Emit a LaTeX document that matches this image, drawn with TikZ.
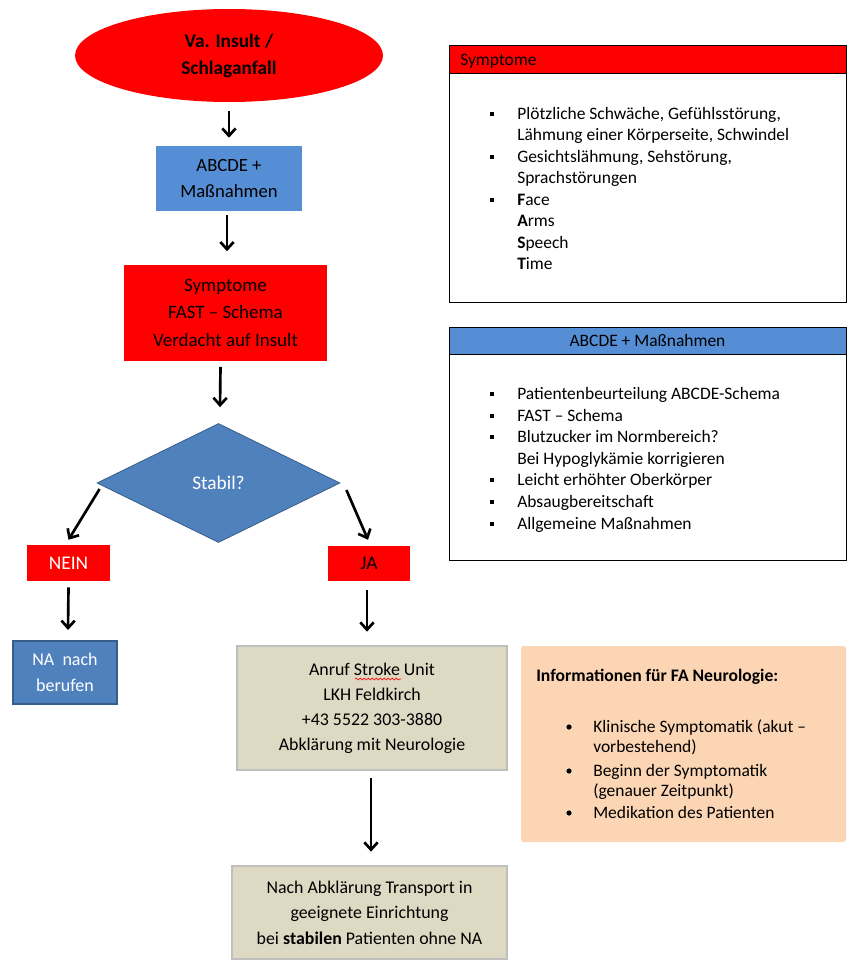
\documentclass[tikz,border=0pt]{standalone}
\usepackage{fontspec}
\setmainfont{Carlito}
\usetikzlibrary{shapes.geometric,arrows.meta,calc,decorations.pathmorphing}
\definecolor{myred}{HTML}{FF0000}
\definecolor{boxblue}{HTML}{558ED5}
\definecolor{diablue}{HTML}{4F81BD}
\definecolor{diaborder}{HTML}{385D8A}
\definecolor{beige}{HTML}{DDD9C3}
\definecolor{beigeborder}{HTML}{BFBFBF}
\definecolor{peach}{HTML}{FCD5B5}
\begin{document}
\begin{tikzpicture}[x=0.75pt,y=-0.75pt,
  arr/.style={line width=2pt,-{Straight Barb[length=5.5pt,width=10pt]}},
  flow/.style={align=center,inner sep=0pt},
  ln/.style={anchor=mid west,inner sep=0pt,yshift=-1.8pt,font=\fontsize{13.1}{15}\selectfont},
]
\useasboundingbox (0,0) rectangle (852,967);
\fill[white] (0,0) rectangle (852,967);

% main flow
\node[flow,ellipse,fill=myred,minimum width=231pt,minimum height=69.75pt,
  font=\fontsize{14.5}{20.25}\selectfont\bfseries] (start) at (229,55.5) {Va. Insult /\\Schlaganfall};
\node[flow,fill=boxblue,minimum width=109.5pt,minimum height=48.75pt,
  font=\fontsize{14}{19.5}\selectfont] (abc) at (229,178.5) {ABCDE +\\Maßnahmen};
\node[flow,fill=myred,minimum width=152.25pt,minimum height=72pt,
  font=\fontsize{14.2}{20.6}\selectfont] (sym) at (225.5,312.5) {Symptome\\FAST – Schema\\Verdacht auf Insult};
\node[flow,diamond,aspect=2.04,fill=diablue,draw=diaborder,line width=0.6pt,
  minimum width=182.25pt,minimum height=89.25pt,text=white,
  font=\fontsize{14.5}{15}\selectfont] (dia) at (218.5,483) {Stabil?};
\node[flow,fill=myred,minimum width=62.25pt,minimum height=27pt,text=white,
  font=\fontsize{14.5}{15}\selectfont] (nein) at (68.5,563) {NEIN};
\node[flow,fill=myred,minimum width=61.5pt,minimum height=26.25pt,
  font=\fontsize{14.5}{15}\selectfont] (ja) at (369,563.5) {JA};
\node[flow,fill=diablue,draw=diaborder,line width=1.6pt,minimum width=78pt,minimum height=47.25pt,
  text=white,font=\fontsize{13.5}{19.5}\selectfont] (na) at (65,672.5) {NA\ \ nach\\berufen};
\node[flow,fill=beige,draw=beigeborder,line width=2pt,minimum width=202.5pt,minimum height=93pt,
  font=\fontsize{13.4}{18.75}\selectfont] (anruf) at (372,708) {Anruf Stroke Unit\\LKH Feldkirch\\+43 5522 303-3880\\Abklärung mit Neurologie};
\node[flow,fill=beige,draw=beigeborder,line width=2pt,minimum width=206.25pt,minimum height=69.75pt,
  font=\fontsize{13.4}{19.1}\selectfont] (nach) at (369.5,912.5) {Nach Abklärung Transport in\\geeignete Einrichtung\\bei \textbf{stabilen} Patienten ohne NA};
\draw[red,line width=0.5pt,decorate,decoration={snake,amplitude=0.7pt,segment length=3pt}] (355,679) -- (401,679);

% connectors
\draw[arr] ($(start.south)+(0,9)$) -- ($(abc.north)+(0,-8)$);
\draw[arr] ($(abc.south)+(-2,4)$) -- ($(abc.south)+(-2,40)$);
\draw[arr] ($(sym.south)+(-5,6)$) -- ($(dia.north)+(1.5,-16)$);
\draw[arr] ($(dia.west)+(3,6)$) -- ($(nein.north)+(0,-5)$);
\draw[arr] ($(dia.east)+(6,7)$) -- ($(ja.north)+(-1,-6)$);
\draw[arr] ($(nein.south)+(0,6)$) -- ($(na.north)+(3,-10)$);
\draw[arr] ($(ja.south)+(-2,9)$) -- ($(anruf.north)+(-5,-13)$);
\draw[arr] ($(anruf.south)+(-1,7)$) -- ($(nach.north)+(1.5,-13)$);

% Symptome info box
\fill[myred] (449,45) rectangle (846,73);
\draw[line width=0.6pt] (449,45) rectangle (846,302) (449,73) -- (846,73);
\node[ln] (symh) at (460,59.5) {Symptome};
\foreach \y in {114,157,200} \fill (490,\y-2.2) rectangle +(4.4,4.4);
\node[ln] (s1) at (517,114) {Plötzliche Schwäche, Gefühlsstörung,};
\node[ln] (s2) at (517,135) {Lähmung einer Körperseite, Schwindel};
\node[ln] (s3) at (517,157) {Gesichtslähmung, Sehstörung,};
\node[ln] (s4) at (517,178) {Sprachstörungen};
\node[ln] (s5) at (517,200) {\textbf{F}ace};
\node[ln] (s6) at (517,221) {\textbf{A}rms};
\node[ln] (s7) at (517,243) {\textbf{S}peech};
\node[ln] (s8) at (517,264) {\textbf{T}ime};

% ABCDE info box
\fill[boxblue] (449,327) rectangle (846,354);
\draw[line width=0.6pt] (449,327) rectangle (846,560) (449,354) -- (846,354);
\node[ln,anchor=mid] (abch) at (647.5,341) {ABCDE + Maßnahmen};
\foreach \y in {394,416,437,480,502,524} \fill (490,\y-2.2) rectangle +(4.4,4.4);
\node[ln] (a1) at (517,394) {Patientenbeurteilung ABCDE-Schema};
\node[ln] (a2) at (517,416) {FAST – Schema};
\node[ln] (a3) at (517,437) {Blutzucker im Normbereich?};
\node[ln] (a4) at (517,459) {Bei Hypoglykämie korrigieren};
\node[ln] (a5) at (517,480) {Leicht erhöhter Oberkörper};
\node[ln] (a6) at (517,502) {Absaugbereitschaft};
\node[ln] (a7) at (517,524) {Allgemeine Maßnahmen};

% Informationen box
\fill[peach,rounded corners=2pt] (521,646) rectangle (846,842);
\node[ln,font=\fontsize{13.2}{15}\selectfont\bfseries] (infh) at (536,676) {Informationen für FA Neurologie:};
\foreach \y in {727,771,813} \fill (569,\y) circle (2.6);
\node[ln] (i1) at (593,727) {Klinische Symptomatik (akut –};
\node[ln] (i2) at (593,747) {vorbestehend)};
\node[ln] (i3) at (593,771) {Beginn der Symptomatik};
\node[ln] (i4) at (593,791) {(genauer Zeitpunkt)};
\node[ln] (i5) at (593,813) {Medikation des Patienten};
\end{tikzpicture}
\end{document}
